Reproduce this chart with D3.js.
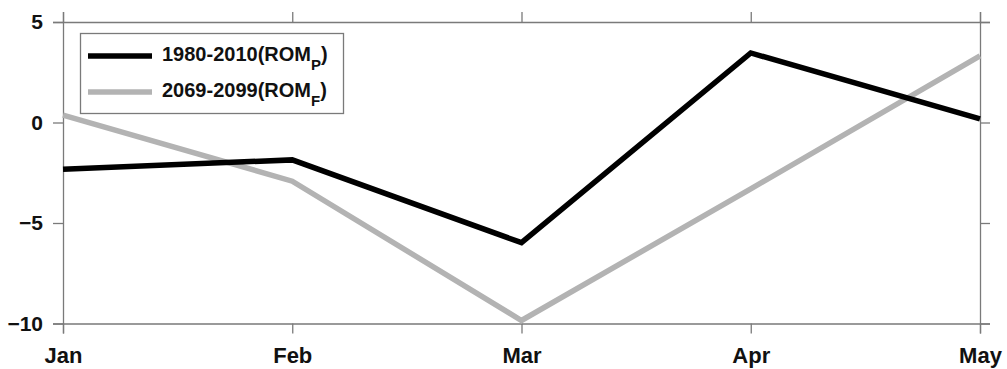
<!DOCTYPE html>
<html>
<head>
<meta charset="utf-8">
<script src="https://cdn.jsdelivr.net/npm/d3@7"></script>
<style>
  html, body { margin: 0; padding: 0; background: #fff; }
  svg { display: block; font-family: "Liberation Sans", Arial, Helvetica, sans-serif; }
</style>
</head>
<body>
<svg id="chart" width="1007" height="369"></svg>
<script>
// Monthly values for the two periods
const months = ["Jan", "Feb", "Mar", "Apr", "May"];
const present = [-2.32, -1.86, -5.98, 3.46, 0.18];   // 1980-2010
const future  = [0.37, -2.92, -9.85, -3.3, 3.31];    // 2069-2099
const yTicks = [5, 0, -5, -10];

const svg = d3.select("#chart");
const plotLeft = 63, plotRight = 980, plotTop = 22, plotBottom = 323.5;

const x = d3.scalePoint().domain(months).range([plotLeft, plotRight]);
const y = d3.scaleLinear().domain([-10, 5]).range([plotBottom, plotTop]);

const axisColor = "#7a7a7a";
const tickLen = 10;

function styleAxis(g, size) {
  g.selectAll("path.domain").attr("stroke", axisColor).attr("stroke-width", 1.3);
  g.selectAll(".tick line").attr("stroke", axisColor).attr("stroke-width", 1.3);
  g.selectAll(".tick text")
    .attr("fill", "#111")
    .attr("font-size", size)
    .attr("font-weight", "bold");
}

// Left axis with labels
svg.append("g")
  .attr("transform", `translate(${plotLeft},0)`)
  .call(d3.axisLeft(y).tickValues(yTicks).tickSize(tickLen).tickSizeOuter(tickLen).tickPadding(10))
  .call(styleAxis, 21);

// Right axis (ticks only)
svg.append("g")
  .attr("transform", `translate(${plotRight},0)`)
  .call(d3.axisRight(y).tickValues(yTicks).tickSize(tickLen).tickSizeOuter(tickLen).tickFormat(""))
  .call(styleAxis, 21);

// Bottom axis with month labels
svg.append("g")
  .attr("transform", `translate(0,${plotBottom})`)
  .call(d3.axisBottom(x).tickSize(tickLen).tickSizeOuter(tickLen).tickPadding(14))
  .call(styleAxis, 22);

// Top axis (ticks only)
svg.append("g")
  .attr("transform", `translate(0,${plotTop})`)
  .call(d3.axisTop(x).tickSize(tickLen).tickSizeOuter(tickLen).tickFormat(""))
  .call(styleAxis, 21);

const line = d3.line()
  .x((d, i) => x(months[i]))
  .y(d => y(d));

const series = [
  { name: "1980-2010", sub: "P", values: present, color: "#000000" },
  { name: "2069-2099", sub: "F", values: future,  color: "#b3b3b3" }
];

// Draw the future line first so the present line sits on top
svg.append("path")
  .datum(future)
  .attr("fill", "none")
  .attr("stroke", "#b3b3b3")
  .attr("stroke-width", 5.5)
  .attr("stroke-linejoin", "miter")
  .attr("d", line);

svg.append("path")
  .datum(present)
  .attr("fill", "none")
  .attr("stroke", "#000000")
  .attr("stroke-width", 5.5)
  .attr("stroke-linejoin", "miter")
  .attr("d", line);

// Legend
const legend = svg.append("g");
legend.append("rect")
  .attr("x", 80.5).attr("y", 33.5)
  .attr("width", 263).attr("height", 80)
  .attr("fill", "#fff")
  .attr("stroke", axisColor)
  .attr("stroke-width", 1.3);

series.forEach((s, i) => {
  const ly = 56 + i * 36;
  legend.append("line")
    .attr("x1", 88).attr("x2", 152)
    .attr("y1", ly).attr("y2", ly)
    .attr("stroke", s.color)
    .attr("stroke-width", 5.5);
  const t = legend.append("text")
    .attr("x", 162).attr("y", ly + 5)
    .attr("font-size", 20)
    .attr("font-weight", "bold")
    .attr("fill", "#111");
  t.append("tspan").text(s.name + "(ROM");
  t.append("tspan").attr("font-size", 15).attr("dy", 9).text(s.sub);
  t.append("tspan").attr("dy", -9).text(")");
});
</script>
</body>
</html>
